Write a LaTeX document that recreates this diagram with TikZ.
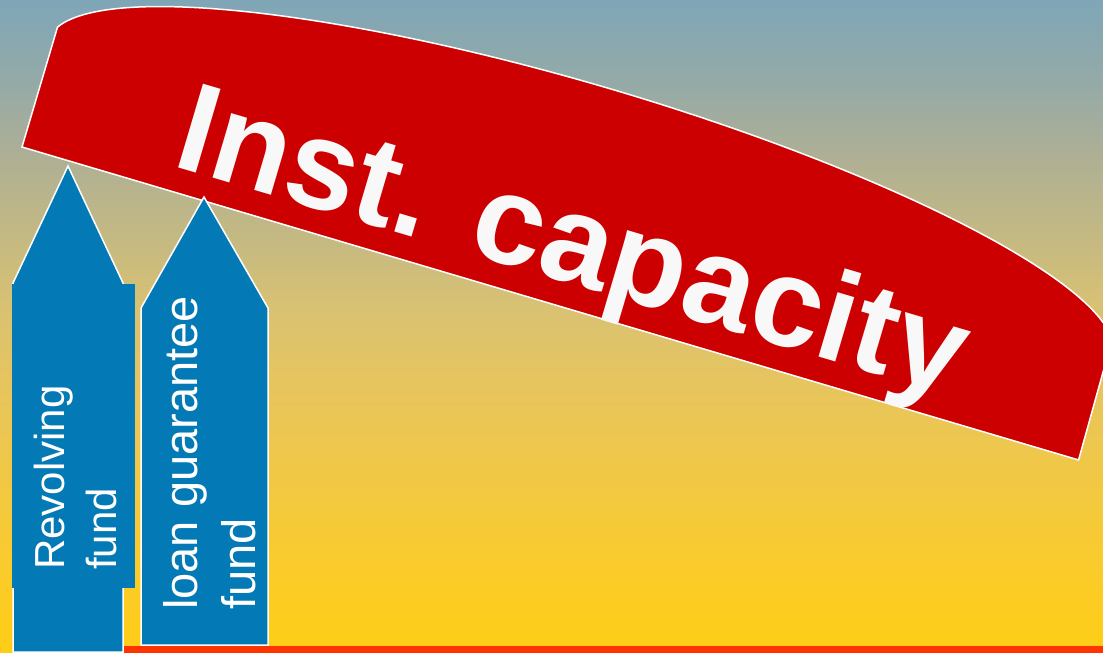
\documentclass[tikz,border=0pt]{standalone}
\usepackage{fontspec}
\setmainfont{Liberation Sans}
\usepackage{xcolor}
\usepackage{tikz}
\definecolor{skytop}{RGB}{127,166,183}
\definecolor{skyhigh}{RGB}{147,170,168}
\definecolor{haze}{RGB}{172,175,150}
\definecolor{sandmid}{RGB}{218,194,113}
\definecolor{sandlow}{RGB}{232,197,92}
\definecolor{sunhigh}{RGB}{252,204,38}
\definecolor{sunlow}{RGB}{254,205,22}
\definecolor{bandred}{HTML}{CC0000}
\definecolor{fundblue}{HTML}{0379B6}
\definecolor{groundred}{HTML}{FF3300}
\definecolor{capwhite}{HTML}{F8F8F8}
% the path fills the middle half of a shading, 25bp to 75bp
\pgfdeclareverticalshading{backdrop}{100bp}{
  color(0bp)=(sunlow); color(25bp)=(sunlow); color(30bp)=(sunhigh);
  color(45bp)=(sandlow); color(51bp)=(sandmid); color(63.5bp)=(haze);
  color(69bp)=(skyhigh); color(75bp)=(skytop); color(100bp)=(skytop)}
\tikzset{
  fundarrow/.style={fill=fundblue, draw=white, line width=1.5pt, line join=miter},
  fundtext/.style={white, rotate=90, inner sep=0pt, align=left, anchor=north west},
}

\begin{document}
\begin{tikzpicture}[x=1pt, y=-1pt]
\useasboundingbox (0,0) rectangle (1103,653);
\clip (0,0) rectangle (1103,653);
\shade[shading=backdrop] (0,0) rectangle (1103,653);
\fill[groundred] (124,646) rectangle (1103,653);
% the band, drawn in its own tilted frame
\begin{scope}[shift={(22,147)}, rotate=-16.5, y=1pt]
  \draw[fill=bandred, draw=white, line width=1.5pt] (0,0) -- (0,125)
    arc[start angle=172.3, end angle=7.7, x radius=555, y radius=113] -- (1102,0) -- cycle;
\end{scope}
\node[capwhite, font=\fontsize{127}{127}\selectfont\bfseries, rotate=-16.5, inner sep=0pt, anchor=base west] (capacity) at (170,165) {Inst. capacity};
% two funds
\coordinate (revtip) at (68,166); \coordinate (guartip) at (204,197);
\draw[fundarrow] (13,283) -- (revtip) -- (123,283) -- (123,652) -- (13,652) -- cycle;
\fill[fundblue] (12,284) rectangle (135,588);
\node[fundtext, font=\fontsize{42}{52}\selectfont] (revolving) at (34,570) {Revolving\\fund};
\draw[fundarrow] (141,308) -- (guartip) -- (268,308) -- (268,645) -- (141,645) -- cycle;
\node[fundtext, font=\fontsize{47}{58}\selectfont] (guarantee) at (163,610) {loan guarantee\\fund};
\end{tikzpicture}
\end{document}
